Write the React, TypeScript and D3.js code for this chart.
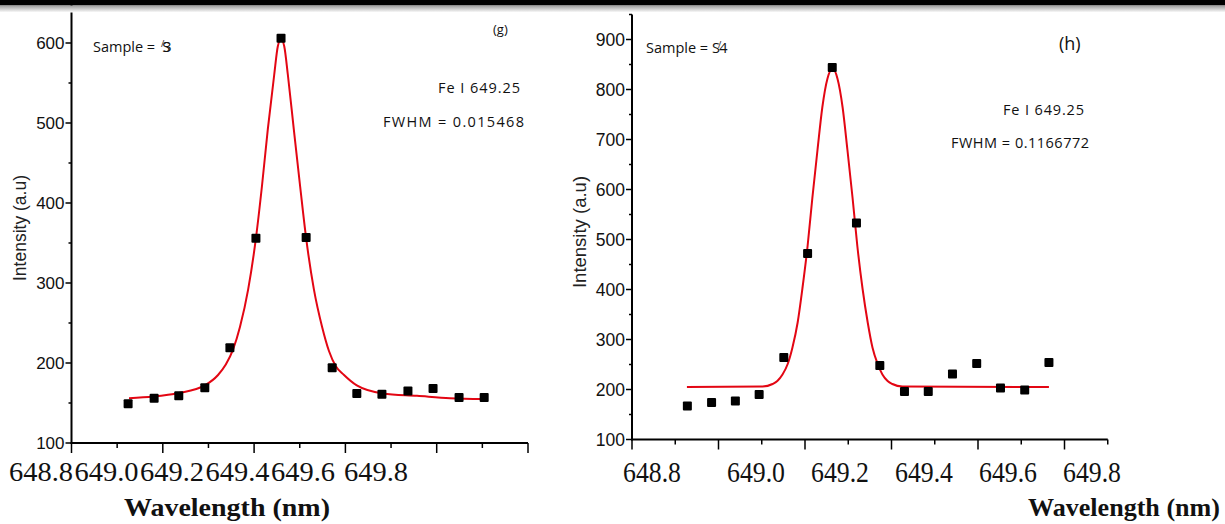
import React from "react";
import * as d3 from "d3";

// ---------- DATA ----------
const X_TICK_LABELS = ["648.8", "649.0", "649.2", "649.4", "649.6", "649.8"];

// Panel (g)
const G_WAVELENGTH = [648.924, 648.981, 649.035, 649.092, 649.147, 649.204, 649.259, 649.314, 649.371, 649.425, 649.48, 649.537, 649.592, 649.649, 649.704];
const G_INTENSITY = [149, 156, 159, 169, 219, 356, 606, 357, 194, 162, 161, 165, 168, 157, 157];
const G_FIT_WAVELENGTH = [648.926, 648.979, 649.035, 649.092, 649.121, 649.138, 649.154, 649.169, 649.187, 649.204, 649.217, 649.23, 649.244, 649.252, 649.259, 649.266, 649.274, 649.287, 649.301, 649.314, 649.331, 649.349, 649.364, 649.379, 649.397, 649.425, 649.482, 649.557, 649.629, 649.704];
const G_FIT_INTENSITY = [156, 158, 162.5, 172, 185, 198, 217, 245, 292, 356, 420, 492, 560, 596, 605, 596, 560, 492, 420, 356, 292, 245, 215, 196, 185, 172, 162, 159, 156, 155];
const G_Y_MAJOR = [100, 200, 300, 400, 500, 600];
const G_Y_MINOR = [150, 250, 350, 450, 550];

// Panel (h)
const H_WAVELENGTH = [648.928, 648.984, 649.039, 649.094, 649.151, 649.206, 649.263, 649.319, 649.373, 649.43, 649.485, 649.541, 649.597, 649.652, 649.708, 649.764];
const H_INTENSITY = [167, 174, 177, 190, 264, 472, 844, 533, 248, 196, 196, 231, 252, 203, 199, 254];
const H_FIT_WAVELENGTH = [648.927, 649.102, 649.125, 649.136, 649.148, 649.16, 649.171, 649.183, 649.194, 649.206, 649.217, 649.229, 649.24, 649.252, 649.264, 649.275, 649.287, 649.298, 649.31, 649.321, 649.333, 649.345, 649.356, 649.368, 649.379, 649.391, 649.402, 649.425, 649.764];
const H_FIT_INTENSITY = [205, 206, 211, 217, 230, 251, 284, 334, 402, 487, 583, 680, 764, 822, 842, 822, 764, 680, 583, 487, 402, 334, 284, 251, 230, 217, 211, 206, 205];
const H_Y_MAJOR = [100, 200, 300, 400, 500, 600, 700, 800, 900];
const H_Y_MINOR = [150, 250, 350, 450, 550, 650, 750, 850, 950];

const X_MAJOR = [648.8, 649.0, 649.2, 649.4, 649.6, 649.8];
const G_X_MINOR = [648.9, 649.1, 649.3, 649.5, 649.7];
const H_X_MINOR = [648.9, 649.1, 649.3, 649.5, 649.7, 649.9];

// ---------- LAYOUT ----------
type PanelCfg = {
  xDomain: [number, number];
  xRange: [number, number];
  yDomain: [number, number];
  yRange: [number, number];
  xs: number[];
  ys: number[];
  fx: number[];
  fy: number[];
  yMajor: number[];
  yMinor: number[];
  xMinor: number[];
  labelCenters: number[];
  labelFont: number;
  labelWidth: number;
  labelBaseline: number;
  yLabelFont: number;
  yTitleX: number;
  yTitleFont: number;
  xTitleX: number;
  xTitleWidth: number;
};

const FONT_SANS = "'Liberation Sans', Arial, sans-serif";
const FONT_SERIF = "'Liberation Serif', 'Times New Roman', serif";
const FONT_NOTE = "'Open Sans', 'Noto Sans', sans-serif";

function Panel({ c }: { c: PanelCfg }) {
  const x = d3.scaleLinear().domain(c.xDomain).range(c.xRange);
  const y = d3.scaleLinear().domain(c.yDomain).range(c.yRange);
  const line = d3
    .line<number>()
    .x((_, i) => x(c.fx[i]))
    .y((d) => y(d))
    .curve(d3.curveMonotoneX);
  const y0 = y(c.yDomain[0]);
  const x0 = x(c.xDomain[0]);
  const ms = 9;
  return (
    <g>
      <path d={line(c.fy) || ""} fill="none" stroke="#e30613" strokeWidth={2} />
      {c.xs.map((w, i) => (
        <rect key={i} x={x(w) - ms / 2} y={y(c.ys[i]) - ms / 2} width={ms} height={ms} rx={1} fill="#000" />
      ))}
      <line x1={x0} x2={x0} y1={y0 + 1} y2={y(c.yDomain[1])} stroke="#000" strokeWidth={2} />
      {c.yMajor.map((v) => (
        <g key={"ym" + v}>
          <line x1={x0 - 6} x2={x0} y1={y(v)} y2={y(v)} stroke="#000" strokeWidth={1.5} />
          <text x={x0 - 7} y={y(v)} dy="0.35em" textAnchor="end" fontFamily={FONT_SANS} fontSize={c.yLabelFont} fill="#111">
            {v}
          </text>
        </g>
      ))}
      {c.yMinor.map((v) => (
        <line key={"yn" + v} x1={x0 - 3} x2={x0} y1={y(v)} y2={y(v)} stroke="#000" strokeWidth={1.5} />
      ))}
      <line x1={x0 - 1} x2={x(c.xDomain[1])} y1={y0} y2={y0} stroke="#000" strokeWidth={2} />
      {X_MAJOR.map((v) => (
        <line key={"xm" + v} x1={x(v)} x2={x(v)} y1={y0} y2={y0 + 10} stroke="#000" strokeWidth={1.5} />
      ))}
      {c.xMinor.map((v) => (
        <line key={"xn" + v} x1={x(v)} x2={x(v)} y1={y0} y2={y0 + 5} stroke="#000" strokeWidth={1.5} />
      ))}
      {X_TICK_LABELS.map((t, i) => (
        <text
          key={"xl" + t}
          x={c.labelCenters[i] - c.labelWidth / 2}
          y={c.labelBaseline}
          fontFamily={FONT_SERIF}
          fontSize={c.labelFont}
          textLength={c.labelWidth}
          lengthAdjust="spacingAndGlyphs"
          fill="#111"
        >
          {t}
        </text>
      ))}
      <text
        x={c.xTitleX}
        y={516}
        fontFamily={FONT_SERIF}
        fontWeight="bold"
        fontSize={25}
        textLength={c.xTitleWidth}
        lengthAdjust="spacingAndGlyphs"
        fill="#111"
      >
        Wavelength (nm)
      </text>
      <text
        transform={`translate(${c.yTitleX},${(y0 + y(c.yDomain[1])) / 2 + 5}) rotate(-90)`}
        textAnchor="middle"
        dy="0.35em"
        fontFamily={FONT_SANS}
        fontSize={c.yTitleFont}
        fill="#222"
      >
        Intensity (a.u)
      </text>
    </g>
  );
}

const G_CFG: PanelCfg = {
  xDomain: [648.8, 649.8],
  xRange: [71.5, 528],
  yDomain: [100, 650],
  yRange: [443, 3],
  xs: G_WAVELENGTH,
  ys: G_INTENSITY,
  fx: G_FIT_WAVELENGTH,
  fy: G_FIT_INTENSITY,
  yMajor: G_Y_MAJOR,
  yMinor: G_Y_MINOR,
  xMinor: G_X_MINOR,
  labelCenters: [41, 106.5, 172, 237.5, 303, 376],
  labelFont: 27,
  labelWidth: 64,
  labelBaseline: 481,
  yLabelFont: 17,
  yTitleX: 20,
  yTitleFont: 17.5,
  xTitleX: 124,
  xTitleWidth: 206,
};

const H_CFG: PanelCfg = {
  xDomain: [648.8, 649.9],
  xRange: [632, 1107.75],
  yDomain: [100, 950],
  yRange: [439.5, 14.5],
  xs: H_WAVELENGTH,
  ys: H_INTENSITY,
  fx: H_FIT_WAVELENGTH,
  fy: H_FIT_INTENSITY,
  yMajor: H_Y_MAJOR,
  yMinor: H_Y_MINOR,
  xMinor: H_X_MINOR,
  labelCenters: [652, 756, 840, 924, 1008, 1092],
  labelFont: 29,
  labelWidth: 58,
  labelBaseline: 482,
  yLabelFont: 17.5,
  yTitleX: 580,
  yTitleFont: 18.5,
  xTitleX: 1028,
  xTitleWidth: 192,
};

export default function App() {
  return (
    <svg
      width={1225}
      height={524}
      viewBox="0 0 1225 524"
      style={{ position: "absolute", left: 0, top: 0, background: "#fff" }}
    >
      <defs>
        <linearGradient id="shade" x1="0" y1="0" x2="0" y2="1">
          <stop offset="0" stopColor="#9a9a9a" />
          <stop offset="1" stopColor="#ffffff" />
        </linearGradient>
      </defs>
      <rect x={0} y={0} width={1225} height={524} fill="#fff" />
      <Panel c={G_CFG} />
      <Panel c={H_CFG} />
      <rect x={0} y={0} width={1225} height={5.5} fill="#000" />
      <rect x={0} y={5.5} width={1225} height={7} fill="url(#shade)" />

      {/* panel (g) notes */}
      <text x={93} y={52} fontFamily={FONT_NOTE} fontSize={14.5} fill="#111">
        Sample = <tspan dx={2} dy={-5} fontSize={9}>/</tspan>
        <tspan dx={-2} dy={5}>S</tspan>
        <tspan dx={-7}>3</tspan>
      </text>
      <text x={493} y={34} fontFamily={FONT_NOTE} fontSize={13} fill="#111">(g)</text>
      <text x={438} y={93} fontFamily={FONT_NOTE} fontSize={14.5} textLength={82} fill="#111">Fe I 649.25</text>
      <text x={383} y={127} fontFamily={FONT_NOTE} fontSize={14.5} textLength={141} fill="#111">FWHM = 0.015468</text>

      {/* panel (h) notes */}
      <text x={646} y={53} fontFamily={FONT_NOTE} fontSize={14.5} fill="#111">
        Sample = S<tspan dx={-2} dy={-5} fontSize={9}>/</tspan>
        <tspan dx={-2} dy={5}>4</tspan>
      </text>
      <text x={1059} y={50} fontFamily={FONT_NOTE} fontSize={18} fill="#111">(h)</text>
      <text x={1003} y={115} fontFamily={FONT_NOTE} fontSize={14.5} textLength={81} fill="#111">Fe I 649.25</text>
      <text x={951} y={148} fontFamily={FONT_NOTE} fontSize={14.5} textLength={138} fill="#111">FWHM = 0.1166772</text>
    </svg>
  );
}
